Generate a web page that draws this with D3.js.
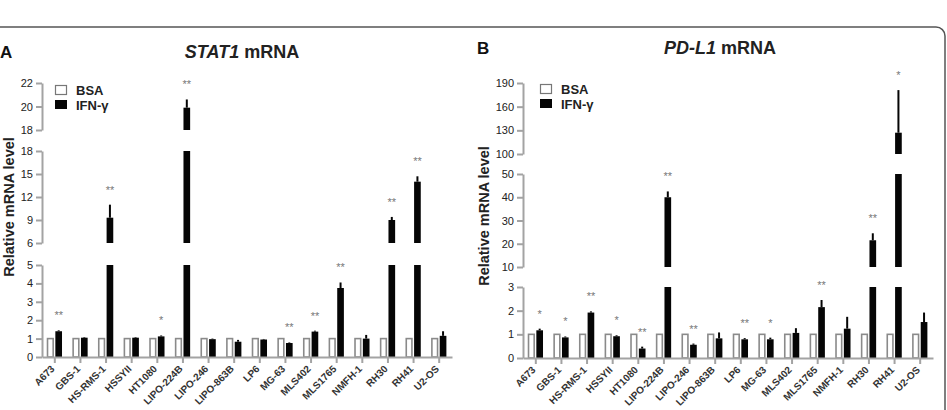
<!DOCTYPE html>
<html>
<head>
<meta charset="utf-8">
<script src="https://cdn.jsdelivr.net/npm/d3@7"></script>
<style>
  body { margin: 0; background: #fff; }
  svg { display: block; font-family: "Liberation Sans", Arial, sans-serif; }
</style>
</head>
<body>
<svg id="chart" width="947" height="410"></svg>
<script>
// cell lines
var categories = ["A673", "GBS-1", "HS-RMS-1", "HSSYII", "HT1080", "LIPO-224B", "LIPO-246",
  "LIPO-863B", "LP6", "MG-63", "MLS402", "MLS1765", "NMFH-1", "RH30", "RH41", "U2-OS"]

// BSA control is the reference level
var bsaValues = [1, 1, 1, 1, 1, 1, 1, 1, 1, 1, 1, 1, 1, 1, 1, 1]

// STAT1 mRNA, IFN-y treated
var stat1Values = [1.4, 1.05, 9.3, 1.05, 1.12, 19.9, 0.97, 0.83, 0.95, 0.76, 1.38, 3.75, 1.0, 9.0, 14.0, 1.15]
var stat1Errors = [0.05, 0.03, 1.7, 0.03, 0.05, 0.7, 0.03, 0.1, 0.03, 0.03, 0.05, 0.3, 0.2, 0.4, 0.7, 0.25]
var stat1Sig = ["**", "", "**", "", "*", "**", "", "", "", "**", "**", "**", "", "**", "**", ""]
var stat1Ticks = [[0, 1, 2, 3, 4, 5], [6, 9, 12, 15, 18], [18, 20, 22]]

// PD-L1 mRNA, IFN-y treated
var pdl1Values = [1.17, 0.87, 1.92, 0.92, 0.4, 40, 0.56, 0.83, 0.79, 0.79, 1.06, 2.15, 1.24, 21.5, 127, 1.52]
var pdl1Errors = [0.07, 0.04, 0.05, 0.04, 0.08, 2.5, 0.05, 0.25, 0.05, 0.07, 0.2, 0.3, 0.5, 3.0, 54, 0.4]
var pdl1Sig = ["*", "*", "**", "*", "**", "**", "**", "", "**", "*", "", "**", "", "**", "*", ""]
var pdl1Ticks = [[0, 1, 2, 3], [10, 20, 30, 40, 50], [100, 130, 160, 190]]

var svg = d3.select("#chart")
var axisGrey = "#a3a3a3"
var narrow = "'Liberation Sans Narrow', 'Arial Narrow', 'Liberation Sans', sans-serif"

// outer frame
svg.append("rect")
  .attr("x", -12).attr("y", 27)
  .attr("width", 957).attr("height", 420)
  .attr("rx", 9)
  .attr("fill", "none")
  .attr("stroke", "#555")
  .attr("stroke-width", 1.5)

function draw_panel(p){

  var g = svg.append("g")

  // panel letter
  g.append("text")
    .attr("x", p.letterX).attr("y", p.titleY)
    .attr("font-size", 17).attr("font-weight", "bold")
    .attr("fill", "#111")
    .text(p.letter)

  // title, gene name italic
  var t = g.append("text")
    .attr("x", p.titleX).attr("y", p.titleY)
    .attr("text-anchor", "middle")
    .attr("font-size", 18).attr("font-weight", "bold")
    .attr("fill", "#222")
  t.append("tspan").attr("font-style", "italic").text(p.gene)
  t.append("tspan").text(" mRNA")

  // y label
  g.append("text")
    .attr("transform", "translate(" + p.ylabX + "," + p.ylabY + ") rotate(-90)")
    .attr("text-anchor", "middle")
    .attr("font-size", 14.5).attr("font-weight", "bold")
    .attr("fill", "#222")
    .text("Relative mRNA level")

  var x = d3.scaleBand().domain(categories).range(p.xRange)
  var sub = d3.scaleBand().domain(["BSA", "IFN"]).range([0, 15]).paddingInner(0.2)
  var off = c => x(c) + x.bandwidth() / 2 - 7.8

  // one linear scale per broken axis segment
  var segs = p.ticks.map((tk, i) => d3.scaleLinear()
    .domain([tk[0], tk[tk.length - 1]])
    .range(p.segRanges[i]))

  segs.forEach((y, i) => {
    var ax = g.append("g")
      .attr("transform", "translate(" + p.xRange[0] + ",0)")
      .call(d3.axisLeft(y).tickValues(p.ticks[i]).tickFormat(d3.format("d"))
        .tickSize(6).tickSizeOuter(0).tickPadding(3))
    ax.selectAll("path, line").attr("stroke", axisGrey).attr("stroke-width", 2)
    ax.selectAll("text")
      .attr("font-family", narrow)
      .attr("font-size", 11).attr("fill", "#222")
  })

  // bars, split across the segments
  function seg_bars(cls, vals, color, stroke, xpos){
    segs.forEach((y, i) => {
      var d0 = y.domain()[0], d1 = y.domain()[1]
      var data = categories.map((c, k) => ({c: c, v: vals[k]})).filter(d => d.v > d0)
      g.selectAll("rect." + cls + i).data(data).enter().append("rect")
        .attr("x", d => xpos(d.c))
        .attr("width", sub.bandwidth() - (stroke ? 1 : 0))
        .attr("y", d => y(Math.min(d.v, d1)))
        .attr("height", d => y(d0) - y(Math.min(d.v, d1)))
        .attr("fill", color)
        .attr("stroke", stroke || "none")
        .attr("stroke-width", 1.6)
    })
  }
  seg_bars("bsa", bsaValues, "#fff", "#8a8a8a", c => off(c) + sub("BSA") + 0.5)
  seg_bars("ifn", p.values, "#050505", null, c => off(c) + sub("IFN"))

  // find segment holding a value
  var seg_of = v => segs.find(y => v >= y.domain()[0] && v <= y.domain()[1]) || segs[segs.length - 1]
  var cx = c => off(c) + sub("IFN") + sub.bandwidth() / 2

  // error bars (upper only)
  g.selectAll("line.err").data(categories).enter().append("line")
    .attr("x1", c => cx(c)).attr("x2", c => cx(c))
    .attr("y1", (c, k) => seg_of(p.values[k])(p.values[k]))
    .attr("y2", (c, k) => seg_of(p.values[k])(p.values[k] + p.errors[k]))
    .attr("stroke", "#050505").attr("stroke-width", 2)

  // significance stars
  g.selectAll("text.sig").data(categories).enter().append("text")
    .attr("x", c => cx(c))
    .attr("y", (c, k) => {
      var top = p.values[k] + p.errors[k]
      return seg_of(p.values[k])(top) - 11
    })
    .attr("text-anchor", "middle")
    .attr("font-size", 11).attr("fill", "#777")
    .text((c, k) => p.sig[k])

  // x axis
  var xa = g.append("g")
    .attr("transform", "translate(0," + p.segRanges[0][0] + ")")
    .call(d3.axisBottom(x).tickSize(6).tickSizeOuter(0))
  xa.selectAll("path, line").attr("stroke", axisGrey).attr("stroke-width", 2)
  xa.selectAll("text")
    .attr("font-family", narrow)
    .attr("font-size", 10).attr("font-weight", "bold").attr("fill", "#333")
    .attr("text-anchor", "end")
    .attr("x", 0).attr("y", 0).attr("dy", "0.35em")
    .attr("transform", "translate(-2,10) rotate(-45)")

  // legend
  var lg = g.append("g").attr("transform", "translate(" + p.legX + "," + p.legY + ")")
  lg.append("rect").attr("x", 0.5).attr("y", 0.5).attr("width", 11).attr("height", 9)
    .attr("fill", "#fff").attr("stroke", "#777").attr("stroke-width", 1.2)
  lg.append("rect").attr("x", 0).attr("y", 15).attr("width", 12).attr("height", 9)
    .attr("fill", "#050505")
  lg.append("text").attr("x", 21).attr("y", 10).text("BSA")
  lg.append("text").attr("x", 21).attr("y", 25).text("IFN-γ")
  lg.selectAll("text").attr("font-size", 13).attr("font-weight", "bold").attr("fill", "#222")
}

draw_panel({
  letter: "A", letterX: 0, gene: "STAT1", titleX: 242, titleY: 58,
  ylabX: 14, ylabY: 207,
  xRange: [42, 452],
  segRanges: [[357, 265], [243, 151], [130, 83]],
  ticks: stat1Ticks,
  values: stat1Values, errors: stat1Errors, sig: stat1Sig,
  legX: 55, legY: 85
})

draw_panel({
  letter: "B", letterX: 477, gene: "PD-L1", titleX: 720, titleY: 54,
  ylabX: 489, ylabY: 216,
  xRange: [523, 933],
  segRanges: [[358, 287], [267, 174], [154, 83]],
  ticks: pdl1Ticks,
  values: pdl1Values, errors: pdl1Errors, sig: pdl1Sig,
  legX: 540, legY: 84
})
</script>
</body>
</html>
